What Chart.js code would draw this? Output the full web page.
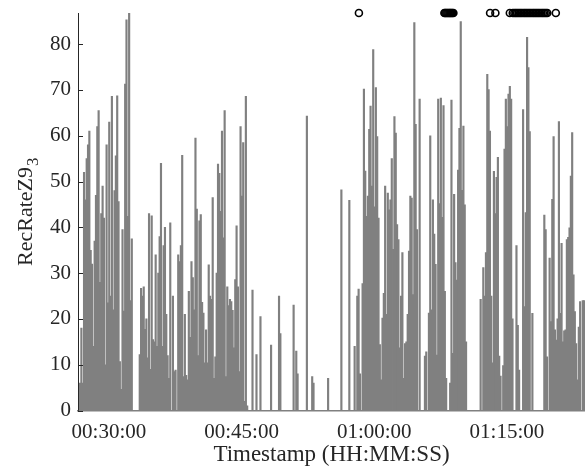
<!DOCTYPE html>
<html>
<head>
<meta charset="utf-8">
<script src="https://cdn.jsdelivr.net/npm/chart.js@4.4.1/dist/chart.umd.min.js"></script>
<style>
  html, body { margin: 0; padding: 0; background: #fff; }
  #wrap { width: 585px; height: 476px; }
</style>
</head>
<body>
<div id="wrap"><canvas id="rec-rate-chart" width="585" height="476"></canvas></div>
<script>
// samples every 9 s starting here
const startTime = "00:26:35";
const stepSeconds = 9;

const recRate = [
  // 00:26:35 -
  0, 6, 18, 6, 52, 46, 55, 58, 61, 35, 32, 14, 37, 47, 62, 65.5, 28, 43, 49, 42,
  10, 58, 23.5, 63, 25, 68.6, 22, 48, 55.6, 68.7, 45.6, 10.7, 4.6, 39.5, 21.7, 71.3, 85.3, 42.4, 86.8, 24,
  37.5, 0, 0, 0, 0, 0, 12.2, 26.7, 25, 27, 17.7, 20, 11.5, 43, 9, 42.5, 15.5, 15, 34, 14,
  30, 38, 54, 14,
  // ~00:36:10 -
  36, 40, 21, 12, 7, 41, 0, 25, 8.5, 8.8, 0, 34, 32.5, 36, 55.7, 7.4, 21, 7.7, 6.7, 26,
  16, 32.5, 29, 22, 59.5, 44, 12, 41.4, 42.8, 23.6, 21.3, 10.4, 17.6, 10.4, 31.8, 25, 24.3, 46.5, 7, 11.7,
  30, 53.8, 51.8, 43.5, 61, 37.7, 65.5, 7.4, 27, 22.9, 24.3, 23.8, 21.9, 13.7, 28.6, 40.3, 27, 8.5, 62, 46.8,
  58.5, 2, 68.6, 1,
  // ~00:45:45 -
  0, 0, 0, 26.3, 0, 0, 12.2, 0, 0, 20.5, 0, 0, 0, 0, 0, 0, 0, 14.3, 0, 0,
  0, 0, 0, 25, 16.8, 0, 0, 0, 0, 0, 0, 0, 0, 0, 23, 0, 13, 8, 0, 0,
  0, 0, 0, 0, 64.3, 0, 0, 0, 7.4, 6, 0, 0, 0, 0, 0, 0, 0, 0, 0, 0,
  7, 0, 0, 0,
  // ~00:55:20 -
  0, 0, 0, 0, 0, 0, 48.2, 0, 0, 0, 0, 0, 45.9, 0, 0, 0, 14, 0, 25, 26.5,
  8, 0, 27.7, 70.2, 52.3, 42.4, 46.8, 61.4, 66.5, 49, 78.8, 44.5, 70.5, 59.8, 42, 14.4, 6.7, 20.2, 25.6, 49,
  21, 47.5, 43.8, 46, 55, 35.2, 64.2, 60.6, 40.6, 37.3, 13.7, 25, 34.5, 7, 14.6, 15, 21, 34.8, 46.8, 46.4,
  25.3, 84.7, 62.5, 39.5,
  // ~01:04:55 -
  0, 68, 0, 0, 0, 11.9, 12.8, 0, 21.3, 60, 22, 46, 38.5, 31.9, 12.1, 68, 45.2, 68.2, 42.2, 66.6,
  26, 7, 0, 0, 6, 67.8, 12.5, 47.2, 32.3, 28.5, 52.5, 61.6, 84.9, 48.1, 62.1, 44.9, 15, 0, 0, 0,
  0, 0, 0, 0, 0, 0, 0, 24.3, 0, 31.2, 25, 34.5, 73.4, 70.1, 61, 25, 10.4, 52.2, 43, 50.9,
  55.3, 11.9, 7.5, 0,
  // ~01:14:30 -
  9.8, 57.1, 68, 62, 69.1, 70.8, 68, 20, 0, 0, 36, 18.6, 8.8, 0, 0, 65.7, 22.7, 43.2, 81.5, 74.9,
  60.9, 0, 21.2, 0, 0, 0, 0, 0, 0, 0, 0, 42.7, 39.5, 11.7, 0, 33.3, 19.4, 46.1, 59.8, 17.6,
  15.4, 20, 63.1, 21.2, 36.5, 15, 17.4, 17.6, 37.3, 37.8, 39.9, 51.2, 60.7, 29.6, 21.6, 14.6, 6.7, 18.2, 23.8, 0,
  24, 24
];

// circle markers along the top
const eventTimes = [
  "00:58:16",
  "01:07:56", "01:08:02", "01:08:09", "01:08:16", "01:08:23", "01:08:30", "01:08:36", "01:08:43", "01:08:50", "01:08:57",
  "01:13:06", "01:13:42",
  "01:15:20", "01:15:40", "01:15:51", "01:16:01", "01:16:11", "01:16:21", "01:16:31", "01:16:41", "01:16:52",
  "01:17:02", "01:17:12", "01:17:22", "01:17:32", "01:17:42", "01:17:53", "01:18:03", "01:18:13", "01:18:23",
  "01:18:33", "01:18:43", "01:18:54", "01:19:04", "01:19:14", "01:19:24", "01:19:34", "01:20:32"
];
const eventLevel = 86.8;

const xTicks = ["00:30:00", "00:45:00", "01:00:00", "01:15:00"];
const yTicks = [0, 10, 20, 30, 40, 50, 60, 70, 80];
const xRange = ["00:26:30", "01:23:50"];
const yMax = 86.8;

const toSeconds = (str) => {
    const p = str.split(":").map(Number);
    return p[0] * 3600 + p[1] * 60 + p[2];
};
const pad = (n) => ("0" + n).slice(-2);
const formatTime = (sec) =>
    `${pad(Math.floor(sec / 3600))}:${pad(Math.floor(sec / 60) % 60)}:${pad(Math.round(sec) % 60)}`;

const t0 = toSeconds(startTime);
const barPoints = recRate.map((v, i) => ({ x: t0 + i * stepSeconds, y: v }));
const eventPoints = eventTimes.map(t => ({ x: toSeconds(t), y: eventLevel }));

const serif = '"Liberation Serif", "Times New Roman", serif';
const textColor = "#262626";

const labelsPlugin = {
    id: "matlabLabels",
    afterDraw(chart) {
        const { ctx, chartArea, scales } = chart;
        ctx.save();
        // inward ticks on the y axis
        ctx.strokeStyle = textColor;
        ctx.lineWidth = 1;
        yTicks.forEach(v => {
            const y = Math.round(scales.y.getPixelForValue(v)) + 0.5;
            ctx.beginPath();
            ctx.moveTo(chartArea.left, y);
            ctx.lineTo(chartArea.left + 5, y);
            ctx.stroke();
        });

        ctx.fillStyle = textColor;
        // x title
        ctx.font = `23px ${serif}`;
        ctx.textAlign = "center";
        ctx.textBaseline = "alphabetic";
        ctx.fillText("Timestamp (HH:MM:SS)", (chartArea.left + chartArea.right) / 2, 461);

        // y title with subscript
        ctx.font = `22px ${serif}`;
        const mainW = ctx.measureText("RecRateZ9").width;
        ctx.font = `17px ${serif}`;
        const subW = ctx.measureText("3").width;
        const total = mainW + 1 + subW;
        const midY = (chartArea.top + chartArea.bottom) / 2;
        ctx.translate(32, midY + total / 2);
        ctx.rotate(-Math.PI / 2);
        ctx.textAlign = "left";
        ctx.font = `22px ${serif}`;
        ctx.fillText("RecRateZ9", 0, 0);
        ctx.font = `17px ${serif}`;
        ctx.fillText("3", mainW + 1, 6);
        ctx.restore();
    }
};

const ctx = document.getElementById("rec-rate-chart").getContext("2d");
new Chart(ctx, {
    type: "bar",
    data: {
        datasets: [
            {
                type: "scatter",
                data: eventPoints,
                pointStyle: "circle",
                pointRadius: 3.5,
                pointBorderWidth: 1.6,
                pointBorderColor: "#000",
                pointBackgroundColor: "rgba(0,0,0,0)",
                showLine: false,
                clip: false
            },
            {
                type: "bar",
                data: barPoints,
                backgroundColor: "#808080",
                borderWidth: 0,
                barThickness: 1.5,
                grouped: false
            }
        ]
    },
    options: {
        responsive: false,
        animation: false,
        devicePixelRatio: 1,
        layout: { autoPadding: false, padding: { top: 13, right: 0, bottom: 0, left: 0 } },
        plugins: {
            legend: { display: false },
            tooltip: { enabled: false }
        },
        scales: {
            x: {
                type: "linear",
                offset: false,
                min: toSeconds(xRange[0]),
                max: toSeconds(xRange[1]),
                grid: { display: false, drawTicks: false },
                border: { display: true, color: "#808080", width: 1.5 },
                afterBuildTicks: (scale) => {
                    scale.ticks = xTicks.map(t => ({ value: toSeconds(t) }));
                },
                afterFit: (scale) => {
                    scale.height = 65.5;
                    scale.paddingLeft = 0;
                    scale.paddingRight = 0;
                },
                ticks: {
                    autoSkip: false,
                    maxRotation: 0,
                    padding: 9,
                    color: textColor,
                    font: { family: serif, size: 21 },
                    callback: (value) => formatTime(value)
                }
            },
            y: {
                min: 0,
                max: yMax,
                grid: { display: false, drawTicks: false },
                border: { display: true, color: textColor, width: 1 },
                afterBuildTicks: (scale) => {
                    scale.ticks = yTicks.map(v => ({ value: v }));
                },
                afterFit: (scale) => {
                    scale.width = 78;
                    scale.paddingTop = 0;
                    scale.paddingBottom = 0;
                },
                ticks: {
                    padding: 7,
                    color: textColor,
                    font: { family: serif, size: 21 }
                }
            }
        }
    },
    plugins: [labelsPlugin]
});
</script>
</body>
</html>
